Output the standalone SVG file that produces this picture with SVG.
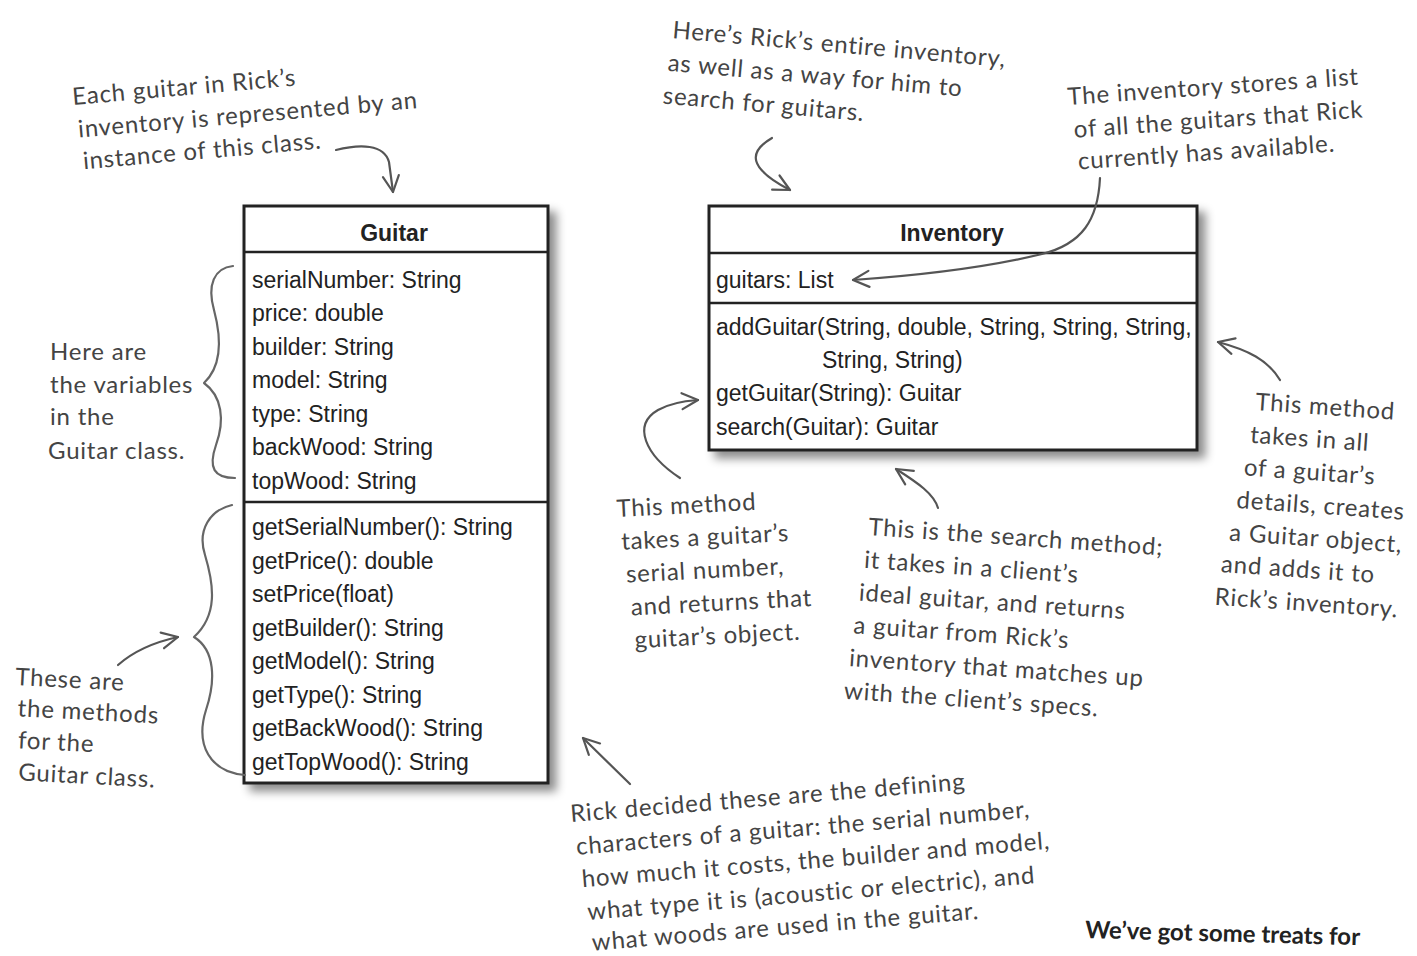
<svg xmlns="http://www.w3.org/2000/svg" width="1417" height="956" viewBox="0 0 1417 956">
<defs>
<filter id="sh" x="-10%" y="-10%" width="130%" height="130%">
<feDropShadow dx="7" dy="7" stdDeviation="5" flood-color="#000" flood-opacity="0.45"/>
</filter>
<marker id="ah" viewBox="0 0 20 20" refX="18" refY="10" markerWidth="20" markerHeight="20" markerUnits="userSpaceOnUse" orient="auto">
<path d="M2,2 L18,10 L2,18" fill="none" stroke="#555" stroke-width="2.2" stroke-linecap="round" stroke-linejoin="round"/>
</marker>
<style>
.box{fill:#fff;stroke:#222;stroke-width:3}
.div{stroke:#222;stroke-width:2.5}
.uml{font-family:"Liberation Sans",Arial,sans-serif;font-size:23px;fill:#222}
.ttl{font-family:"Liberation Sans",Arial,sans-serif;font-size:23px;font-weight:bold;fill:#222}
.hw{font-family:"Lato","Open Sans",sans-serif;font-size:24px;letter-spacing:0.8px;fill:#444}
.hwb{font-family:"Lato","Open Sans",sans-serif;font-size:24px;font-weight:bold;fill:#222}
.arr{fill:none;stroke:#555;stroke-width:2.2;stroke-linecap:round;marker-end:url(#ah)}
.br{fill:none;stroke:#666;stroke-width:2.2;stroke-linecap:round;stroke-linejoin:round}
</style>
</defs>
<rect width="1417" height="956" fill="#fff"/>

<g id="guitar">
<rect class="box" x="244" y="206" width="304" height="577" filter="url(#sh)"/>
<line class="div" x1="244" y1="252" x2="548" y2="252"/>
<line class="div" x1="244" y1="502" x2="548" y2="502"/>
<text class="ttl" x="394" y="241" text-anchor="middle">Guitar</text>
<text class="uml" x="252" y="288">serialNumber: String</text>
<text class="uml" x="252" y="321">price: double</text>
<text class="uml" x="252" y="355">builder: String</text>
<text class="uml" x="252" y="388">model: String</text>
<text class="uml" x="252" y="422">type: String</text>
<text class="uml" x="252" y="455">backWood: String</text>
<text class="uml" x="252" y="489">topWood: String</text>
<text class="uml" x="252" y="535">getSerialNumber(): String</text>
<text class="uml" x="252" y="569">getPrice(): double</text>
<text class="uml" x="252" y="602">setPrice(float)</text>
<text class="uml" x="252" y="636">getBuilder(): String</text>
<text class="uml" x="252" y="669">getModel(): String</text>
<text class="uml" x="252" y="703">getType(): String</text>
<text class="uml" x="252" y="736">getBackWood(): String</text>
<text class="uml" x="252" y="770">getTopWood(): String</text>
</g>

<g id="inventory">
<rect class="box" x="709" y="206" width="488" height="244" filter="url(#sh)"/>
<line class="div" x1="709" y1="253" x2="1197" y2="253"/>
<line class="div" x1="709" y1="303" x2="1197" y2="303"/>
<text class="ttl" x="952" y="241" text-anchor="middle">Inventory</text>
<text class="uml" x="716" y="288">guitars: List</text>
<text class="uml" x="716" y="335">addGuitar(String, double, String, String, String,</text>
<text class="uml" x="822" y="368">String, String)</text>
<text class="uml" x="716" y="401">getGuitar(String): Guitar</text>
<text class="uml" x="716" y="435">search(Guitar): Guitar</text>
</g>

<g id="note-each-guitar">
<g transform="rotate(-5 73 105)">
<text class="hw" x="73" y="105">Each guitar in Rick’s</text>
<text class="hw" x="76" y="138">inventory is represented by an</text>
<text class="hw" x="78" y="170">instance of this class.</text>
</g>
</g>
<g id="note-inventory">
<g transform="rotate(5 672 38)">
<text class="hw" x="672" y="38">Here’s Rick’s entire inventory,</text>
<text class="hw" x="670" y="71">as well as a way for him to</text>
<text class="hw" x="668" y="104">search for guitars.</text>
</g>
</g>
<g id="note-list">
<g transform="rotate(-4 1068 105)">
<text class="hw" x="1068" y="105">The inventory stores a list</text>
<text class="hw" x="1072" y="138">of all the guitars that Rick</text>
<text class="hw" x="1074" y="170">currently has available.</text>
</g>
</g>
<g id="note-variables">
<text class="hw" x="50" y="360">Here are</text>
<text class="hw" x="50" y="393">the variables</text>
<text class="hw" x="50" y="425">in the</text>
<text class="hw" x="48" y="459">Guitar class.</text>
</g>
<g id="note-methods">
<g transform="rotate(3 15 685)">
<text class="hw" x="15" y="685">These are</text>
<text class="hw" x="19" y="716">the methods</text>
<text class="hw" x="21" y="748">for the</text>
<text class="hw" x="23" y="780">Guitar class.</text>
</g>
</g>
<g id="note-addguitar">
<g transform="rotate(4 1255 410)">
<text class="hw" x="1255" y="410">This method</text>
<text class="hw" x="1252" y="443">takes in all</text>
<text class="hw" x="1248" y="476">of a guitar’s</text>
<text class="hw" x="1243" y="509">details, creates</text>
<text class="hw" x="1238" y="542">a Guitar object,</text>
<text class="hw" x="1232" y="574">and adds it to</text>
<text class="hw" x="1228" y="607">Rick’s inventory.</text>
</g>
</g>
<g id="note-getguitar">
<g transform="rotate(-3 617 517)">
<text class="hw" x="617" y="517">This method</text>
<text class="hw" x="620" y="550">takes a guitar’s</text>
<text class="hw" x="623" y="583">serial number,</text>
<text class="hw" x="626" y="616">and returns that</text>
<text class="hw" x="628" y="649">guitar’s object.</text>
</g>
</g>
<g id="note-search">
<g transform="rotate(4 868 535)">
<text class="hw" x="868" y="535">This is the search method;</text>
<text class="hw" x="866" y="568">it takes in a client’s</text>
<text class="hw" x="863" y="601">ideal guitar, and returns</text>
<text class="hw" x="860" y="634">a guitar from Rick’s</text>
<text class="hw" x="858" y="667">inventory that matches up</text>
<text class="hw" x="855" y="700">with the client’s specs.</text>
</g>
</g>
<g id="note-defining">
<g transform="rotate(-4.7 571 822)">
<text class="hw" x="571" y="822">Rick decided these are the defining</text>
<text class="hw" x="574" y="855">characters of a guitar: the serial number,</text>
<text class="hw" x="577" y="888">how much it costs, the builder and model,</text>
<text class="hw" x="580" y="921">what type it is (acoustic or electric), and</text>
<text class="hw" x="582" y="952">what woods are used in the guitar.</text>
</g>
</g>
<g id="note-treats">
<g transform="rotate(1.5 1085 938)">
<text class="hwb" x="1085" y="938">We’ve got some treats for</text>
</g>
</g>

<g id="connectors">
<path class="arr" d="M336,150 C360,144 384,144 389,162 L393,192"/>
<path class="arr" d="M772,138 C748,152 748,168 790,190"/>
<path class="arr" d="M1100,178 C1098,220 1082,244 1042,254 C985,268 910,276 853,280"/>
<path class="arr" d="M1280,380 C1268,360 1248,350 1218,342"/>
<path class="arr" d="M680,478 C645,455 632,425 658,410 C670,403 684,401 698,400"/>
<path class="arr" d="M938,508 C934,494 918,483 896,469"/>
<path class="arr" d="M630,784 L583,738"/>
<path class="arr" d="M118,665 C135,650 155,642 178,637"/>
<path class="br" d="M233,266 C214,268 207,285 214,310 C222,340 222,366 204,383 C222,396 225,420 216,445 C208,468 214,478 235,478"/>
<path class="br" d="M232,505 C210,510 197,530 205,555 C214,585 218,615 194,637 C215,650 216,680 206,710 C195,745 210,772 245,775"/>
</g>
</svg>
